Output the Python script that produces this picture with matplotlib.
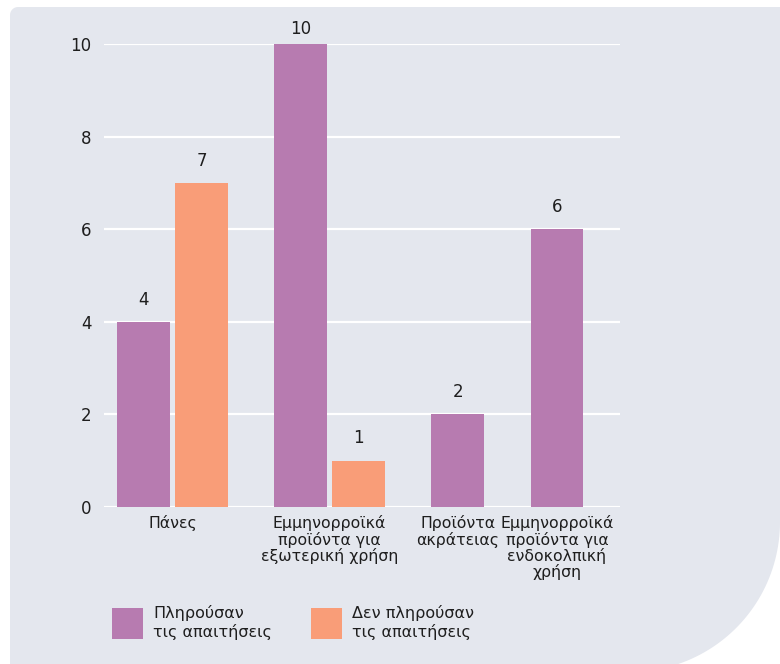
import numpy as np
import matplotlib.pyplot as plt
from matplotlib.patches import Polygon, Patch

# Data
categories = [
    "Πάνες",
    "Εμμηνορροϊκά\nπροϊόντα για\nεξωτερική χρήση",
    "Προϊόντα\nακράτειας",
    "Εμμηνορροϊκά\nπροϊόντα για\nενδοκολπική\nχρήση",
]
met = [4, 10, 2, 6]            # Πληρούσαν τις απαιτήσεις
not_met = [7, 1, None, None]   # Δεν πληρούσαν τις απαιτήσεις
series_labels = ["Πληρούσαν\nτις απαιτήσεις", "Δεν πληρούσαν\nτις απαιτήσεις"]
y_ticks = [0, 2, 4, 6, 8, 10]

PURPLE = "#b77bb0"
ORANGE = "#f99d78"
PANEL = "#e4e7ee"
TEXT = "#1e1e1e"

W, H = 780, 664
plt.rcParams['font.family'] = ['DejaVu Sans']

fig = plt.figure(figsize=(W / 100, H / 100), dpi=100, facecolor="white")

# Background panel: small rounded top-left corner, big curve at bottom-right
pts = []
r_small = 8
for a in np.linspace(np.pi, np.pi / 2, 8):
    pts.append((10 + r_small + r_small * np.cos(a), 7 + r_small - r_small * np.sin(a)))
pts.append((W + 2, 7))
pts.append((W + 2, 522))
cx, cy, R = 630, 522, 150
a_end = np.arcsin((H - cy) / R)
for a in np.linspace(0, a_end, 40):
    pts.append((cx + R * np.cos(a), cy + R * np.sin(a)))
pts.append((10, H + 2))
verts = [(x / W, 1 - y / H) for x, y in pts]
fig.patches.append(Polygon(verts, closed=True, transform=fig.transFigure,
                           facecolor=PANEL, edgecolor="none", zorder=-5))

# Axes placed to match the plot area
left, right = 104 / W, 620 / W
bottom, top = 1 - 507 / H, 1 - 44 / H
ax = fig.add_axes([left, bottom, right - left, top - bottom])
ax.set_facecolor("none")
ax.set_zorder(2)

# Grouped layout: missing values take no room
bar_w = 0.91
slot = 1.0
gap = 0.80
cursor = 0.0
met_x, not_x, centers = [], [], []
for m, n in zip(met, not_met):
    xs = []
    for v in (m, n):
        if v is not None:
            xs.append(cursor + bar_w / 2)
            cursor += slot
        else:
            xs.append(None)
    met_x.append(xs[0])
    not_x.append(xs[1])
    valid = [x for x in xs if x is not None]
    centers.append(np.mean(valid))
    cursor += gap - (slot - bar_w)

mx = [x for x, v in zip(met_x, met) if v is not None]
mv = [v for v in met if v is not None]
nx = [x for x, v in zip(not_x, not_met) if v is not None]
nv = [v for v in not_met if v is not None]

ax.bar(mx, mv, width=bar_w, color=PURPLE, zorder=2)
ax.bar(nx, nv, width=bar_w, color=ORANGE, zorder=2)

for x, v in list(zip(mx, mv)) + list(zip(nx, nv)):
    off = 16 if v < 10 else 11  # top label squeezed under the panel edge
    ax.annotate(str(v), (x, v), xytext=(0, off), textcoords="offset points",
                ha="center", va="center", fontsize=12, color=TEXT)

# one slot = 58 px, plot area 516 px wide
ax.set_xlim(-13 / 58, (516 - 13) / 58)
ax.set_ylim(0, 10)
ax.set_yticks(y_ticks)
ax.set_yticklabels([str(t) for t in y_ticks])
ax.set_xticks(centers)
ax.set_xticklabels(categories, linespacing=1.02)
ax.tick_params(axis="y", length=0, pad=9, labelsize=12, labelcolor=TEXT)
ax.tick_params(axis="x", length=0, pad=6, labelsize=11.3, labelcolor=TEXT)
ax.grid(axis="y", color="white", linewidth=1.6, zorder=1)
ax.set_axisbelow(True)
for s in ax.spines.values():
    s.set_visible(False)

handles = [Patch(facecolor=PURPLE), Patch(facecolor=ORANGE)]
fig.legend(handles, series_labels, loc="upper left",
           bbox_to_anchor=(112 / W, 1 - 605 / H), ncol=2, frameon=False,
           fontsize=11.5, handlelength=1.94, handleheight=2.61,
           handletextpad=0.63, columnspacing=2.44, borderpad=0,
           borderaxespad=0, labelspacing=0, labelcolor=TEXT)

fig.savefig("out.png", dpi=100, facecolor="white")
